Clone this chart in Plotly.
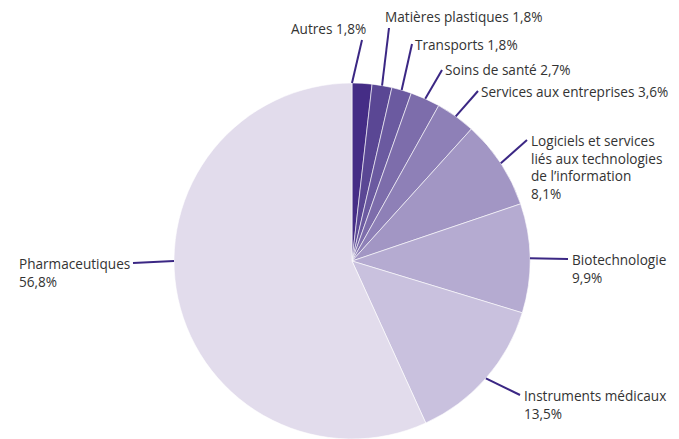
import math
import plotly.graph_objects as go

# ---- data ----
labels = ["Autres", "Matières plastiques", "Transports", "Soins de santé",
          "Services aux entreprises",
          "Logiciels et services liés aux technologies de l'information",
          "Biotechnologie", "Instruments médicaux", "Pharmaceutiques"]
values = [1.8, 1.8, 1.8, 2.7, 3.6, 8.1, 9.9, 13.5, 56.8]
label_texts = ["Autres 1,8%", "Matières plastiques 1,8%", "Transports 1,8%",
               "Soins de santé 2,7%", "Services aux entreprises 3,6%",
               "Logiciels et services<br>liés aux technologies<br>de l’information<br>8,1%",
               "Biotechnologie<br>9,9%", "Instruments médicaux<br>13,5%",
               "Pharmaceutiques<br>56,8%"]
colors = ["#452d86", "#5a4794", "#6b5aa0", "#7d6dab", "#8e80b7",
          "#a296c4", "#b5abd1", "#c9c1de", "#e2dcec"]

# ---- layout geometry (screen pixels; page body has an 8px margin) ----
W, H = 679, 439
OFF = 8
CX, CY, R = 352, 261, 178

def px(x):
    return (x - OFF) / W

def py(y):
    return 1 - (y - OFF) / H

# label anchor (end of leader) positions, text anchoring
label_ends = [(362, 40), (389, 28), (412, 44), (442, 70), (478, 91),
              (527, 140), (568, 259), (520, 395), (133, 263)]
anchors = ["right-bottom", "left-bottom", "left", "left", "left",
           "left-top", "left-top", "left-top", "right-top"]
leader_angle_override = [0, None, None, None, None, None, None, None, 270]

fig = go.Figure(go.Pie(
    labels=labels, values=values, sort=False, direction="clockwise",
    rotation=0, textinfo="none", hoverinfo="label+percent",
    marker=dict(colors=colors, line=dict(color="white", width=0.6)),
    domain=dict(x=[px(CX - R), px(CX + R)], y=[py(CY + R), py(CY - R)]),
    showlegend=False,
))

total = sum(values)
cum = 0.0
shapes = []
annotations = []
FONT = dict(family="Open Sans, Lato, sans-serif", size=13.6, color="#333333")
for i, v in enumerate(values):
    mid = (cum + v / 2) / total * 360.0
    cum += v
    ang = leader_angle_override[i] if leader_angle_override[i] is not None else mid
    a = math.radians(ang)
    sx = CX + R * math.sin(a)
    sy = CY - R * math.cos(a)
    ex, ey = label_ends[i]
    shapes.append(dict(type="line", xref="paper", yref="paper",
                       x0=px(sx), y0=py(sy), x1=px(ex), y1=py(ey),
                       line=dict(color="#3b2784", width=2)))
    anc = anchors[i]
    if anc == "right-bottom":
        ann = dict(x=px(ex + 5), y=py(ey - 1), xanchor="right", yanchor="bottom")
    elif anc == "left-bottom":
        ann = dict(x=px(ex - 5), y=py(ey - 1), xanchor="left", yanchor="bottom")
    elif anc == "left":
        ann = dict(x=px(ex + 2), y=py(ey), xanchor="left", yanchor="middle")
    elif anc == "left-top":
        ann = dict(x=px(ex + 3), y=py(ey - 10), xanchor="left", yanchor="top")
    else:  # right-top
        ann = dict(x=px(ex - 2), y=py(ey - 10), xanchor="right", yanchor="top")
    ann.update(text=label_texts[i], showarrow=False, xref="paper", yref="paper",
               align="left", font=FONT, borderpad=0)
    annotations.append(ann)

fig.update_layout(
    width=W, height=H, margin=dict(l=0, r=0, t=0, b=0),
    paper_bgcolor="white", plot_bgcolor="white",
    shapes=shapes, annotations=annotations,
)

fig.write_html("out.html")
